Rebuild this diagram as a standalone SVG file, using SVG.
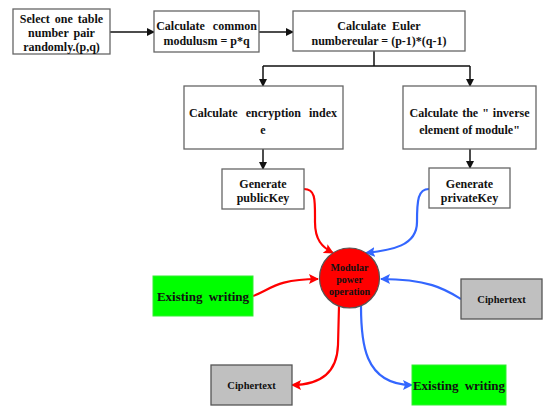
<svg xmlns="http://www.w3.org/2000/svg" width="550" height="415" viewBox="0 0 550 415">
<style>
.box{fill:#fff;stroke:#666;stroke-width:1.3}
.grn{fill:#00ff00;stroke:#33ee33;stroke-width:1}
.gry{fill:#c0c0c0;stroke:#555;stroke-width:1.3}
text{font-family:'Liberation Serif','DejaVu Serif',serif;font-weight:bold;font-size:12px;fill:#111;text-anchor:middle}
.blk{fill:none;stroke:#111;stroke-width:1.5}
.red{fill:none;stroke:#ff0000;stroke-width:2.2}
.blu{fill:none;stroke:#3366ff;stroke-width:2.2}
</style>
<defs>
<marker id="ak" markerWidth="8" markerHeight="8" refX="7" refY="4" orient="auto" markerUnits="userSpaceOnUse"><path d="M0,0 L8,4 L0,8 Z" fill="#111"/></marker>
<marker id="ar" markerWidth="10" markerHeight="10" refX="9" refY="5" orient="auto" markerUnits="userSpaceOnUse"><path d="M0,0 L10,5 L0,10 L2,5 Z" fill="#ff0000"/></marker>
<marker id="ab" markerWidth="10" markerHeight="10" refX="9" refY="5" orient="auto" markerUnits="userSpaceOnUse"><path d="M0,0 L10,5 L0,10 L2,5 Z" fill="#3366ff"/></marker>
</defs>
<g id="connectors">
<path class="blk" d="M110,32 L154,32" marker-end="url(#ak)"/>
<path class="blk" d="M259,32 L293,32" marker-end="url(#ak)"/>
<path class="blk" d="M374,51 L374,66 M263,66 L470,66"/>
<path class="blk" d="M263,66 L263,86" marker-end="url(#ak)"/>
<path class="blk" d="M470,66 L470,86" marker-end="url(#ak)"/>
<path class="blk" d="M263,149 L263,169" marker-end="url(#ak)"/>
<path class="blk" d="M470,149 L470,168" marker-end="url(#ak)"/>
<path class="red" d="M304,189 C316,189 315,200 315,222 C315,240 322,247 333,253" marker-end="url(#ar)"/>
<path class="blu" d="M429,189 C418,189 417,200 417,222 C417,246 392,250 366,253" marker-end="url(#ab)"/>
<path class="red" d="M253,296 C270,290 276,279 318,279" marker-end="url(#ar)"/>
<path class="blu" d="M461,299 C446,290 430,279 381,279" marker-end="url(#ab)"/>
<path class="red" d="M339,306 L338,345 C337,375 318,385 292,385" marker-end="url(#ar)"/>
<path class="blu" d="M361,306 C361,340 363,385 412,385" marker-end="url(#ab)"/>
</g>
<g id="select">
<rect class="box" x="13" y="9" width="97" height="45"/>
<text x="61.5" y="23" word-spacing="2">Select one table</text>
<text x="61.5" y="37" word-spacing="2">number pair</text>
<text x="61.5" y="51">randomly.(p,q)</text>
</g>
<g id="modulus">
<rect class="box" x="154" y="11" width="105" height="41"/>
<text x="206.5" y="30" word-spacing="5">Calculate common</text>
<text x="206.5" y="45">modulusm = p*q</text>
</g>
<g id="euler">
<rect class="box" x="293" y="11" width="172" height="40"/>
<text x="379" y="30" word-spacing="3">Calculate Euler</text>
<text x="379" y="45">numbereular = (p-1)*(q-1)</text>
</g>
<g id="encindex">
<rect class="box" x="184" y="86" width="159" height="63"/>
<text x="263" y="117" word-spacing="5">Calculate encryption index</text>
<text x="263" y="134">e</text>
</g>
<g id="inverse">
<rect class="box" x="403" y="86" width="133" height="63"/>
<text x="469.5" y="117" word-spacing="1">Calculate the " inverse</text>
<text x="469.5" y="134">element of module"</text>
</g>
<g id="publickey">
<rect class="box" x="222" y="169" width="82" height="40"/>
<text x="263" y="188">Generate</text>
<text x="263" y="202">publicKey</text>
</g>
<g id="privatekey">
<rect class="box" x="429" y="168" width="81" height="40"/>
<text x="469.5" y="188">Generate</text>
<text x="469.5" y="202">privateKey</text>
</g>
<g id="modpow">
<circle cx="349.5" cy="278" r="30" fill="#ff0000" stroke="#555" stroke-width="1.2"/>
<text x="349.5" y="271" style="font-size:10px">Modular</text>
<text x="349.5" y="283" style="font-size:10px">power</text>
<text x="349.5" y="295" style="font-size:10px">operation</text>
</g>
<g id="plain1">
<rect class="grn" x="153" y="276" width="100" height="40"/>
<text x="203" y="301" style="font-size:13px" word-spacing="3">Existing writing</text>
</g>
<g id="cipher1">
<rect class="gry" x="461" y="279" width="81" height="40"/>
<text x="501.5" y="302.5" style="font-size:10.5px">Ciphertext</text>
</g>
<g id="cipher2">
<rect class="gry" x="211" y="365" width="81" height="40"/>
<text x="251.5" y="388.5" style="font-size:10.5px">Ciphertext</text>
</g>
<g id="plain2">
<rect class="grn" x="412" y="365" width="94" height="40"/>
<text x="459" y="389.5" style="font-size:13px" word-spacing="3">Existing writing</text>
</g>
</svg>
